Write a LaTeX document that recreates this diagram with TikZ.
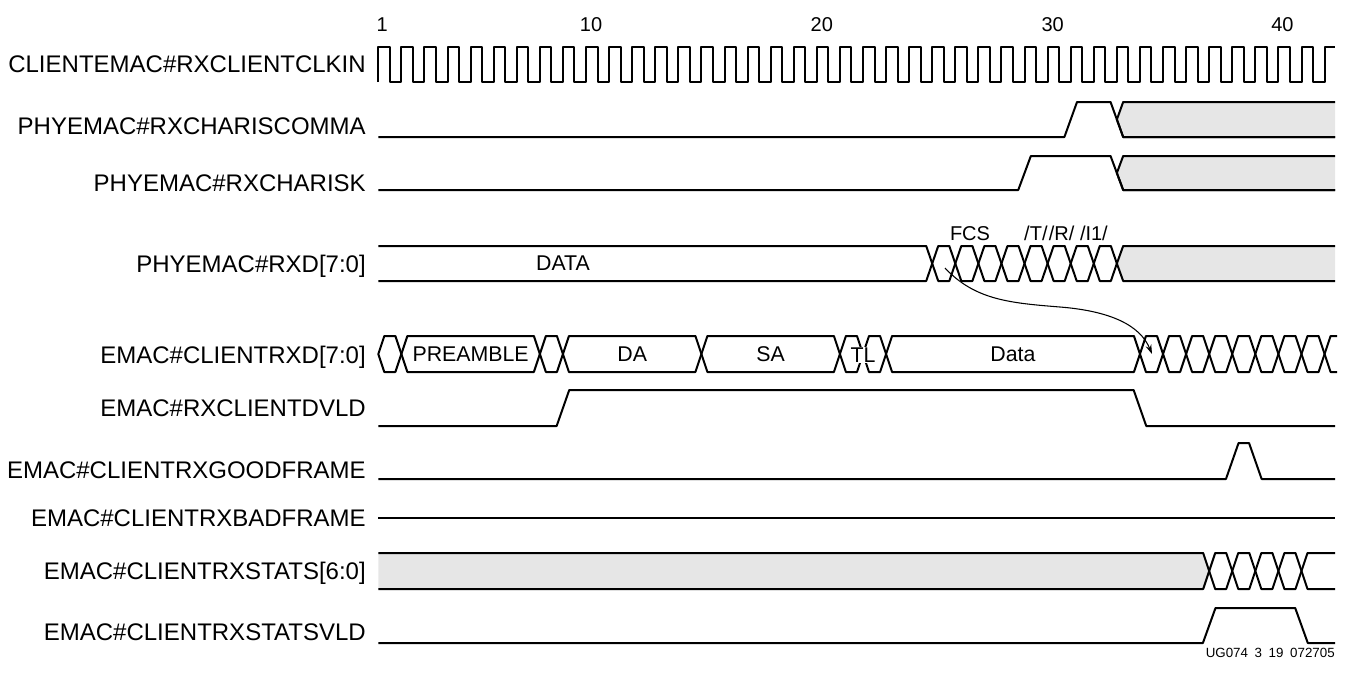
\documentclass[tikz,border=0pt]{standalone}
\usepackage{fontspec}
\setmainfont{Liberation Sans}
\usetikzlibrary{arrows.meta}
\definecolor{busgrey}{HTML}{E6E6E6}
\tikzset{declare function={T(\n)=378.3+23.08*\n;}}
\newcommand\busCell[4]{\draw[sig] ({T(#1)},{(#3+#4)/2}) -- ({T(#1)+6},#3) -- ({T(#2)-6},#3) -- ({T(#2)},{(#3+#4)/2}) -- ({T(#2)-6},#4) -- ({T(#1)+6},#4) -- cycle;}
\newcommand\greyRight[3]{%
  \fill[busgrey] ({T(#1)},{(#2+#3)/2}) -- ({T(#1)+6.3},#2) -- (1335,#2) -- (1335,#3) -- ({T(#1)+6.3},#3) -- cycle;
  \draw[sig] (1335,#2) -- ({T(#1)+6.3},#2) -- ({T(#1)},{(#2+#3)/2}) -- ({T(#1)+6.3},#3) -- (1335,#3);}
\begin{document}
\begin{tikzpicture}[x=0.75pt,y=-0.75pt,
  sig/.style={line width=1.5pt,line join=round},
  lab/.style={anchor=base east,inner sep=0pt,font=\fontsize{18}{20}\selectfont},
  num/.style={anchor=base,inner sep=0pt,font=\fontsize{15}{17}\selectfont},
  bustxt/.style={anchor=center,inner sep=0pt,font=\fontsize{16}{18}\selectfont},
  conn/.style={line width=0.8pt,-{Stealth[length=7pt,width=4.5pt]}}]
\useasboundingbox (0,0) rectangle (1346,672);

% cycle numbers
\node[num] (n1) at ({T(0)+4},31) {1};
\node[num] (n10) at ({T(9)+5},31) {10};
\node[num] (n20) at ({T(19)+5},31) {20};
\node[num] (n30) at ({T(29)+5},31) {30};
\node[num] (n40) at ({T(39)+4},31) {40};

% labels
\node[lab] (lclk) at (366,72.6) {CLIENTEMAC\#RXCLIENTCLKIN};
\node[lab] (lcom) at (366,134.6) {PHYEMAC\#RXCHARISCOMMA};
\node[lab] (lisk) at (366,191.6) {PHYEMAC\#RXCHARISK};
\node[lab] (lrxd) at (366,272.6) {PHYEMAC\#RXD[7:0]};
\node[lab] (lcrxd) at (366,363.6) {EMAC\#CLIENTRXD[7:0]};
\node[lab] (ldvld) at (366,416.6) {EMAC\#RXCLIENTDVLD};
\node[lab] (lgood) at (366,478.6) {EMAC\#CLIENTRXGOODFRAME};
\node[lab] (lbad) at (366,526.6) {EMAC\#CLIENTRXBADFRAME};
\node[lab] (lstat) at (366,579.6) {EMAC\#CLIENTRXSTATS[6:0]};
\node[lab] (lsvld) at (366,640.6) {EMAC\#CLIENTRXSTATSVLD};

% clock
\draw[sig] ({T(0)},82) \foreach \k in {0,...,40}{ -- ({T(\k)},82) -- ({T(\k)},47) -- ({T(\k)+11.54},47) -- ({T(\k)+11.54},82)} -- ({T(41)},82) -- ({T(41)},47) -- (1335,47);

% RXCHARISCOMMA
\greyRight{32}{102}{137}
\draw[sig] (378.3,137) -- ({T(30)-6.3},137) -- ({T(30)+6.3},102) -- ({T(32)-6.3},102) -- ({T(32)+6.3},137) -- (1335,137);

% RXCHARISK
\greyRight{32}{156}{190}
\draw[sig] (378.3,190) -- ({T(28)-6.3},190) -- ({T(28)+6.3},156) -- ({T(32)-6.3},156) -- ({T(32)+6.3},190) -- (1335,190);

% RXD
\draw[sig] (378.3,246) -- ({T(24)-6},246) -- ({T(24)},263.5) -- ({T(24)-6},281) -- (378.3,281);
\foreach \a in {24,...,31} {\busCell{\a}{\a+1}{246}{281}}
\greyRight{32}{246}{281}
\node[bustxt] (tdata) at (563,263.5) {DATA};
\node[num] (tfcs) at (970,240) {FCS};
\node[num] (ttri) at (1066,240) {/T/\kern1pt/R/ /I1/};

% CLIENTRXD
\foreach \a/\b in {0/1,1/7,7/8,8/14,14/20,20/21,21/22,22/33,33/34,34/35,35/36,36/37,37/38,38/39,39/40,40/41} {\busCell{\a}{\b}{336}{372}}
\draw[sig] (1337,336) -- ({T(41)+6},336) -- ({T(41)},354) -- ({T(41)+6},372) -- (1337,372);
\node[bustxt] (tpre) at ({T(4)},354) {PREAMBLE};
\node[bustxt] (tda) at ({T(11)},354) {DA};
\node[bustxt] (tsa) at ({T(17)},354) {SA};
\node[bustxt,fill=white,inner sep=0.5pt] (ttl) at ({T(21)},355) {TL};
\node[bustxt] (tdat) at ({T(27.5)},354) {Data};

% DVLD
\draw[sig] (378.3,426) -- ({T(8)-6.3},426) -- ({T(8)+6.3},390) -- ({T(33)-6.3},390) -- ({T(33)+6.3},426) -- (1335,426);

% GOODFRAME
\draw[sig] (378.3,479) -- ({T(37)-6.3},479) -- ({T(37)+6.3},443) -- ({T(38)-6.3},443) -- ({T(38)+6.3},479) -- (1335,479);

% BADFRAME
\draw[sig] (378.3,518) -- (1335,518);

% STATS
\fill[busgrey] (378.3,553) -- ({T(36)-6},553) -- ({T(36)},571) -- ({T(36)-6},589) -- (378.3,589) -- cycle;
\draw[sig] (378.3,553) -- ({T(36)-6},553) -- ({T(36)},571) -- ({T(36)-6},589) -- (378.3,589);
\foreach \a in {36,...,39} {\busCell{\a}{\a+1}{553}{589}}
\draw[sig] (1335,553) -- ({T(40)+6},553) -- ({T(40)},571) -- ({T(40)+6},589) -- (1335,589);

% STATSVLD
\draw[sig] (378.3,643) -- ({T(36)-6.3},643) -- ({T(36)+6.3},608) -- ({T(40)-6.3},608) -- ({T(40)+6.3},643) -- (1335,643);

% arrow
\coordinate (fcsA) at (945,268);
\coordinate (rxdB) at (1152,354);
\draw[conn] (fcsA) .. controls (975,300) and (1010,303) .. (1060,307) .. controls (1110,311) and (1140,325) .. (rxdB);

\node[anchor=base east,inner sep=0pt,font=\fontsize{10}{12}\selectfont] (wm) at (1335,657) {UG074\enspace3\enspace19\enspace072705};
\end{tikzpicture}
\end{document}
